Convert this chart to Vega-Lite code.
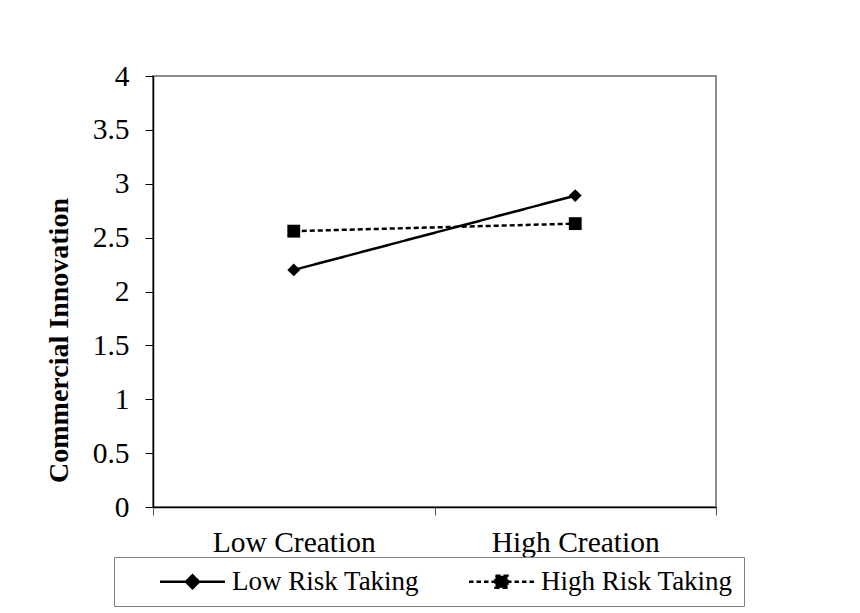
{
  "$schema": "https://vega.github.io/schema/vega-lite/v6.json",
  "autosize": {"type": "none"},
  "width": 563,
  "height": 431,
  "padding": {"left": 153, "top": 76, "right": 144, "bottom": 106},
  "background": "white",
  "config": {
    "view": {"stroke": "#8c8c8c", "strokeWidth": 2},
    "font": "Liberation Serif"
  },
  "data": {
    "values": [
      {"Creation": "Low Creation", "Series": "Low Risk Taking", "Innovation": 2.20},
      {"Creation": "High Creation", "Series": "Low Risk Taking", "Innovation": 2.89},
      {"Creation": "Low Creation", "Series": "High Risk Taking", "Innovation": 2.56},
      {"Creation": "High Creation", "Series": "High Risk Taking", "Innovation": 2.63}
    ]
  },
  "encoding": {
    "x": {
      "field": "Creation",
      "type": "nominal",
      "sort": ["Low Creation", "High Creation"],
      "scale": {"paddingInner": 0, "paddingOuter": 0},
      "axis": {
        "title": null,
        "labelAngle": 0,
        "labelFont": "Liberation Serif",
        "labelFontSize": 29.5,
        "labelColor": "black",
        "labelPadding": 13,
        "tickBand": "extent",
        "tickSize": 8,
        "tickColor": "#555",
        "domainColor": "black",
        "domainWidth": 1.5,
        "grid": false
      }
    },
    "y": {
      "field": "Innovation",
      "type": "quantitative",
      "scale": {"domain": [0, 4], "nice": false},
      "axis": {
        "title": "Commercial Innovation",
        "titleFont": "Liberation Serif",
        "titleFontSize": 28,
        "titleFontWeight": "bold",
        "titleColor": "black",
        "titleAngle": -90,
        "titleBaseline": "alphabetic",
        "titleAlign": "center",
        "titleX": -86,
        "titleY": 264,
        "values": [0, 0.5, 1, 1.5, 2, 2.5, 3, 3.5, 4],
        "labelExpr": "'' + datum.value",
        "labelFont": "Liberation Serif",
        "labelFontSize": 29.5,
        "labelColor": "black",
        "labelPadding": 16,
        "tickSize": 8,
        "tickColor": "black",
        "domainColor": "black",
        "domainWidth": 1.5,
        "grid": false
      }
    }
  },
  "layer": [
    {
      "mark": {"type": "line", "strokeWidth": 2.5},
      "encoding": {
        "strokeDash": {
          "field": "Series",
          "type": "nominal",
          "scale": {"domain": ["Low Risk Taking", "High Risk Taking"], "range": [[1, 0], [5, 3]]},
          "legend": null
        },
        "color": {
          "field": "Series",
          "type": "nominal",
          "scale": {"domain": ["Low Risk Taking", "High Risk Taking"], "range": ["black", "black"]},
          "legend": {
            "title": null,
            "orient": "none",
            "legendX": -39,
            "legendY": 481,
            "direction": "horizontal",
            "strokeColor": "#7f7f7f",
            "padding": 11,
            "labelFont": "Liberation Serif",
            "labelFontSize": 27,
            "labelColor": "black",
            "labelLimit": 400,
            "labelOffset": 26,
            "symbolSize": 400,
            "symbolOffset": 54,
            "symbolStrokeWidth": 2.5,
            "columnPadding": 14,
            "encode": {
              "symbols": {
                "update": {
                  "fill": {"value": "black"},
                  "stroke": {"value": "black"},
                  "strokeWidth": {"value": 2.5},
                  "shape": {"signal": "datum.value === 'Low Risk Taking' ? 'M-3.25,0L3.25,0M0,-0.65L0.65,0L0,0.65L-0.65,0Z' : 'M-3.25,0L-2.8,0M-2.5,0L-2.05,0M-1.75,0L-1.3,0M-1.0,0L-0.6,0M0.6,0L1.0,0M1.3,0L1.75,0M2.05,0L2.5,0M2.8,0L3.25,0M-0.6,-0.6L0.6,-0.6L0.6,0.6L-0.6,0.6Z'"}
                }
              }
            }
          }
        }
      }
    },
    {
      "transform": [{"filter": "datum.Series === 'Low Risk Taking'"}],
      "mark": {"type": "point", "filled": true, "color": "black", "opacity": 1, "shape": "diamond", "size": 165},
      "encoding": {}
    },
    {
      "transform": [{"filter": "datum.Series === 'High Risk Taking'"}],
      "mark": {"type": "point", "filled": true, "color": "black", "opacity": 1, "shape": "square", "size": 165},
      "encoding": {}
    }
  ]
}
